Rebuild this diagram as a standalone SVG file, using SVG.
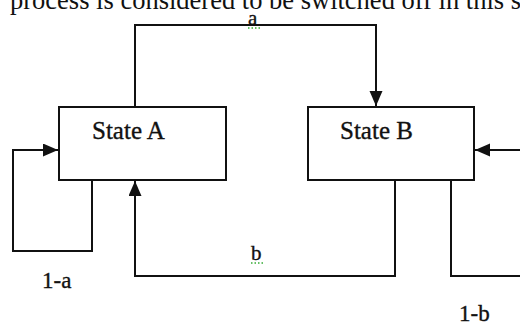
<svg xmlns="http://www.w3.org/2000/svg" width="520" height="327" viewBox="0 0 520 327">
<style>
.box{fill:#fff;stroke:#111;stroke-width:2}
.con{fill:none;stroke:#111;stroke-width:2}
.t{font-family:"Liberation Serif","Times New Roman",serif;fill:#111;stroke:#111;stroke-width:0.35}
.hd{font-family:"Liberation Serif","Times New Roman",serif;fill:#111}
.sq{stroke:#3a3;stroke-width:1.5;stroke-dasharray:1.5 2;fill:none}
</style>
<defs>
<marker id="ah" markerUnits="userSpaceOnUse" markerWidth="16" markerHeight="14" refX="15" refY="6.5" orient="auto">
<path d="M0,0 L15,6.5 L0,13 z" fill="#111"/>
</marker>
</defs>
<rect width="520" height="327" fill="#fff"/>
<text class="hd" x="10" y="9" font-size="26.5">process is considered to be switched off in this s</text>
<g id="connectors">
<path class="con" d="M135,107 V25 H376 V106" marker-end="url(#ah)"/>
<path class="con" d="M92,180 V251 H13 V150 H58" marker-end="url(#ah)"/>
<path class="con" d="M395,180 V276 H135 V181" marker-end="url(#ah)"/>
<path class="con" d="M451,180 V276 H524"/>
<path class="con" d="M524,150 H475" marker-end="url(#ah)"/>
</g>
<g id="stateA">
<rect class="box" x="59" y="107" width="167" height="73"/>
<text class="t" x="92" y="139" font-size="25">State A</text>
</g>
<g id="stateB">
<rect class="box" x="308" y="107" width="166" height="73"/>
<text class="t" x="340" y="139" font-size="25">State B</text>
</g>
<g id="labels">
<text class="t" x="248" y="25" font-size="21">a</text>
<line class="sq" x1="248" y1="28" x2="262" y2="28"/>
<text class="t" x="251" y="260" font-size="21">b</text>
<line class="sq" x1="251" y1="263" x2="263" y2="263"/>
<text class="t" x="42" y="288" font-size="23">1-a</text>
<text class="t" x="459" y="321" font-size="23">1-b</text>
</g>
</svg>
